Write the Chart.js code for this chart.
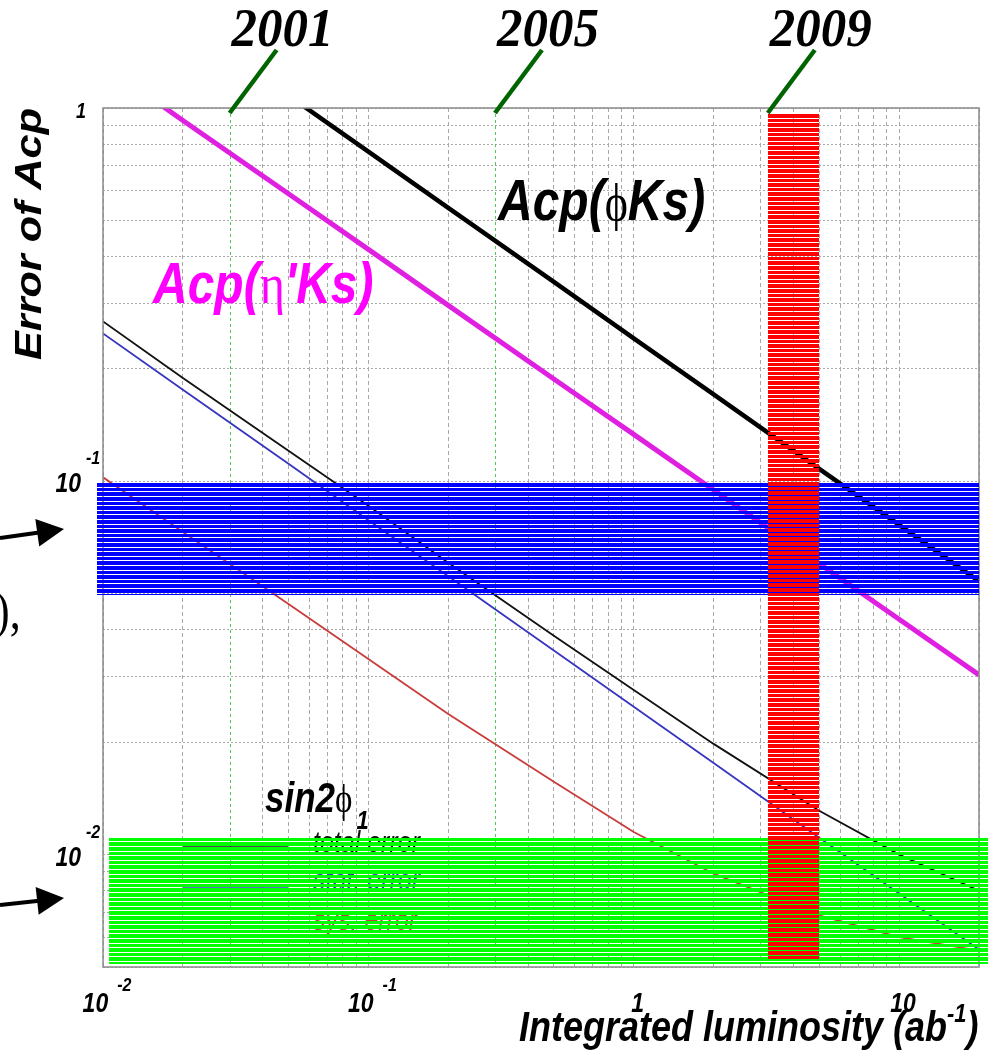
<!DOCTYPE html>
<html>
<head>
<meta charset="utf-8">
<script src="https://cdn.jsdelivr.net/npm/chart.js@4.4.1/dist/chart.umd.min.js"></script>
<style>
  html, body { margin: 0; padding: 0; background: #fff; }
</style>
</head>
<body>
<canvas id="lumiChart" width="988" height="1056"></canvas>
<script>
// integrated luminosity (ab^-1) where the curves are sampled
const lumi = [0.01, 0.02, 0.05, 0.1, 0.2, 0.5, 1, 2, 5, 10, 20];

// expected errors
const errPhiKs   = [null, null, 1.08, 0.764, 0.540, 0.342, 0.2415, 0.171, 0.108, 0.0764, 0.054];
const errEtapKs  = [1.31, 0.926, 0.589, 0.418, 0.296, 0.188, 0.1336, 0.0948, 0.0602, 0.0427, 0.0303];
const errTotal   = [0.268, 0.189, 0.1207, 0.086, 0.0605, 0.0386, 0.0276, 0.0198, 0.0131, 0.0100, 0.0080];
const errStat    = [0.249, 0.176, 0.1114, 0.0787, 0.0557, 0.0352, 0.0249, 0.0176, 0.0111, 0.00787, 0.00557];
const errSys     = [0.1025, 0.0731, 0.0469, 0.0334, 0.0238, 0.01567, 0.0115, 0.00889, 0.00687, 0.00601, 0.00553];

// grid lines
const xGrid = [0.01, 0.02, 0.04, 0.05, 0.06, 0.07, 0.08, 0.09,
               0.1, 0.2, 0.4, 0.5, 0.6, 0.7, 0.8, 0.9,
               1, 2, 3, 4, 5, 6, 7, 8, 9, 10, 20];
const yGrid = [0.005, 0.006, 0.007, 0.008, 0.009,
               0.01, 0.02, 0.03, 0.04, 0.05, 0.06, 0.07, 0.08, 0.09,
               0.1, 0.2, 0.3, 0.4, 0.5, 0.6, 0.7, 0.8, 0.9, 1];

// axis labels
const xTickValues = [0.01, 0.1, 1, 10];
const xTickBase   = ['10', '10', '1', '10'];
const xTickExp    = ['-2', '-1', '', ''];
const yTickValues = [1, 0.1, 0.01];
const yTickBase   = ['1', '10', '10'];
const yTickExp    = ['', '-1', '-2'];

// years marked along the top
const yearLabels = ['2001', '2005', '2009'];
const yearLumi   = [0.03, 0.3, 3.2];
const yearGuide  = [true, true, false];

// highlighted bands [lumi range], [error range]
const blueBandLumi  = [0.0095, 20];
const blueBandErr   = [0.0496, 0.0988];
const greenBandLumi = [0.0105, 22];
const greenBandErr  = [0.00508, 0.0111];
const redBandLumi   = [3.2, 5.0];
const redBandErr    = [0.00524, 0.963];

const legendLabels = ['total error', 'stat. error', 'sys. error'];

const SANS = '"Liberation Sans", Arial, sans-serif';
const SERIF = '"Liberation Serif", "DejaVu Serif", serif';
const SY = 1.2; // text is drawn a bit taller than wide

function series(values) {
    return lumi.map((x, i) => ({ x: x, y: values[i] }));
}

// draws consecutive text pieces with their own fonts, returns end x
function textRuns(ctx, runs, x, y) {
    let cx = x;
    runs.forEach(r => {
        ctx.save();
        ctx.font = r.font;
        ctx.fillStyle = r.color || '#000';
        ctx.textBaseline = 'alphabetic';
        ctx.textAlign = 'left';
        const w = ctx.measureText(r.text).width;
        ctx.translate(cx, y + (r.dy || 0));
        ctx.scale(1, r.sy || SY);
        ctx.fillText(r.text, 0, 0);
        ctx.restore();
        cx += w + (r.gap || 0);
    });
    return cx;
}

function runsWidth(ctx, runs) {
    let w = 0;
    runs.forEach(r => {
        ctx.font = r.font;
        w += ctx.measureText(r.text).width + (r.gap || 0);
    });
    return w;
}

// filled box made of horizontal strips with thin see-through gaps
function stripedBox(ctx, x0, x1, y0, y1, color) {
    const period = 4.6;
    const l = Math.round(Math.min(x0, x1)), r = Math.round(Math.max(x0, x1));
    const top = Math.min(y0, y1), bottom = Math.round(Math.max(y0, y1));
    ctx.save();
    ctx.fillStyle = color;
    for (let y = top; y < bottom; y += period) {
        const a = Math.round(y);
        const b = Math.min(Math.round(y + period) - 1, bottom);
        if (b > a) ctx.fillRect(l, a, r - l, b - a);
    }
    ctx.restore();
}

function arrow(ctx, x0, y0, x1, y1) {
    const len = Math.hypot(x1 - x0, y1 - y0);
    const dx = (x1 - x0) / len, dy = (y1 - y0) / len;
    const head = 27, half = 14;
    const bx = x1 - dx * head, by = y1 - dy * head;
    ctx.save();
    ctx.strokeStyle = '#000';
    ctx.fillStyle = '#000';
    ctx.lineWidth = 4;
    ctx.beginPath();
    ctx.moveTo(x0, y0);
    ctx.lineTo(bx + dx * 2, by + dy * 2);
    ctx.stroke();
    ctx.beginPath();
    ctx.moveTo(x1, y1);
    ctx.lineTo(bx - dy * half, by + dx * half);
    ctx.lineTo(bx + dy * half, by - dx * half);
    ctx.closePath();
    ctx.fill();
    ctx.restore();
}

const decorations = {
    id: 'decorations',
    beforeDatasetsDraw(chart) {
        const ctx = chart.ctx, area = chart.chartArea, xs = chart.scales.x;
        // dotted guides for the years
        ctx.save();
        ctx.strokeStyle = '#4fc94f';
        ctx.lineWidth = 1;
        ctx.setLineDash([3, 3]);
        yearLumi.forEach((v, i) => {
            if (!yearGuide[i]) return;
            const px = Math.round(xs.getPixelForValue(v)) + 0.5;
            ctx.beginPath();
            ctx.moveTo(px, area.top);
            ctx.lineTo(px, area.bottom);
            ctx.stroke();
        });
        ctx.restore();
    },
    afterDatasetsDraw(chart) {
        const ctx = chart.ctx, area = chart.chartArea;
        const xs = chart.scales.x, ys = chart.scales.y;

        // frame
        ctx.save();
        ctx.strokeStyle = '#8a8a8a';
        ctx.lineWidth = 1.5;
        ctx.strokeRect(area.left, area.top, area.right - area.left, area.bottom - area.top);
        ctx.restore();

        // curve labels
        const bi48 = 'italic bold 48px ' + SANS;
        textRuns(ctx, [
            { text: 'Acp(', font: bi48, color: '#000' },
            { text: 'ϕ', font: '44px ' + SERIF, color: '#000' },
            { text: 'Ks)', font: bi48, color: '#000' }
        ], 498, 220);
        textRuns(ctx, [
            { text: 'Acp(', font: bi48, color: '#ff00ff' },
            { text: 'η', font: '48px ' + SERIF, color: '#ff00ff' },
            { text: '\'', font: bi48, color: '#ff00ff' },
            { text: 'Ks)', font: bi48, color: '#ff00ff' }
        ], 153, 303);

        // sin2phi1 legend
        textRuns(ctx, [
            { text: 'sin2', font: 'italic bold 35px ' + SANS },
            { text: 'ϕ', font: '33px ' + SERIF, gap: 4 },
            { text: '1', font: 'italic bold 22px ' + SANS, dy: 17 }
        ], 265, 812);
        const legendSets = chart.data.datasets.slice(2);
        const legendY = [847, 888, 926];
        const legendBase = [852, 890, 930];
        legendSets.forEach((ds, i) => {
            ctx.save();
            ctx.strokeStyle = ds.borderColor;
            ctx.lineWidth = 1.5;
            ctx.beginPath();
            ctx.moveTo(183, legendY[i]);
            ctx.lineTo(288, legendY[i]);
            ctx.stroke();
            ctx.restore();
            textRuns(ctx, [{ text: legendLabels[i], font: 'italic 25px ' + SANS, color: ds.borderColor }],
                313, legendBase[i]);
        });

        // striped bands on top of everything inside the plot
        stripedBox(ctx, xs.getPixelForValue(blueBandLumi[0]), xs.getPixelForValue(blueBandLumi[1]),
            ys.getPixelForValue(blueBandErr[1]), ys.getPixelForValue(blueBandErr[0]), '#0000ff');
        stripedBox(ctx, xs.getPixelForValue(greenBandLumi[0]), xs.getPixelForValue(greenBandLumi[1]),
            ys.getPixelForValue(greenBandErr[1]), ys.getPixelForValue(greenBandErr[0]), '#00ff00');
        stripedBox(ctx, xs.getPixelForValue(redBandLumi[0]), xs.getPixelForValue(redBandLumi[1]),
            ys.getPixelForValue(redBandErr[1]), ys.getPixelForValue(redBandErr[0]), '#ff0000');
    },
    afterDraw(chart) {
        const ctx = chart.ctx, area = chart.chartArea;
        const xs = chart.scales.x, ys = chart.scales.y;

        // y tick labels
        yTickValues.forEach((v, i) => {
            const py = ys.getPixelForValue(v);
            if (yTickExp[i]) {
                ctx.font = 'italic bold 23px ' + SANS;
                const w = ctx.measureText(yTickBase[i]).width;
                textRuns(ctx, [{ text: yTickBase[i], font: 'italic bold 23px ' + SANS }], 81 - w, py + 11);
                textRuns(ctx, [{ text: yTickExp[i], font: 'italic bold 16px ' + SANS }], 86, py - 17);
            } else {
                ctx.font = 'italic bold 18px ' + SANS;
                const w = ctx.measureText(yTickBase[i]).width;
                textRuns(ctx, [{ text: yTickBase[i], font: 'italic bold 18px ' + SANS }], 86 - w, py + 10);
            }
        });

        // x tick labels
        xTickValues.forEach((v, i) => {
            const px = xs.getPixelForValue(v);
            const runs = [{ text: xTickBase[i], font: 'italic bold 23px ' + SANS, gap: xTickExp[i] ? 9 : 0 }];
            const w = runsWidth(ctx, runs.concat(xTickExp[i] ? [{ text: xTickExp[i], font: 'italic bold 16px ' + SANS }] : []));
            const end = textRuns(ctx, runs, px + 4 - w / 2, area.bottom + 45);
            if (xTickExp[i]) {
                textRuns(ctx, [{ text: xTickExp[i], font: 'italic bold 16px ' + SANS }], end, area.bottom + 24);
            }
        });

        // axis titles
        textRuns(ctx, [
            { text: 'Integrated luminosity (ab', font: 'italic bold 36px ' + SANS },
            { text: '-1', font: 'italic bold 22px ' + SANS, dy: -19 },
            { text: ')', font: 'italic bold 36px ' + SANS }
        ], 519, 1041);

        ctx.save();
        ctx.translate(41, 360);
        ctx.rotate(-Math.PI / 2);
        ctx.scale(SY, 1);
        ctx.font = 'italic bold 36px ' + SANS;
        ctx.fillStyle = '#000';
        ctx.textBaseline = 'alphabetic';
        ctx.fillText('Error of Acp', 0, 0);
        ctx.restore();

        // year markers with leader lines
        const yearFont = 'italic bold 51px ' + SERIF;
        yearLumi.forEach((v, i) => {
            const px = xs.getPixelForValue(v);
            ctx.save();
            ctx.strokeStyle = '#006400';
            ctx.lineWidth = 4.5;
            ctx.beginPath();
            ctx.moveTo(px, area.top + 5);
            ctx.lineTo(px + 47, 50);
            ctx.stroke();
            ctx.restore();
            ctx.font = yearFont;
            const w = ctx.measureText(yearLabels[i]).width;
            textRuns(ctx, [{ text: yearLabels[i], font: yearFont, sy: 1.08 }], px + 53 - w / 2, 46);
        });

        // pointers on the left margin
        arrow(ctx, 0, 538, 64, 529);
        arrow(ctx, 0, 905, 64, 898);
        textRuns(ctx, [{ text: '),', font: '44px ' + SERIF }], -5, 628);
    }
};

function lineSet(label, values, color, width) {
    return {
        label: label,
        data: series(values),
        borderColor: color,
        borderWidth: width,
        pointRadius: 0,
        tension: 0,
        fill: false,
        clip: 0
    };
}

const gridTicks = values => scale => { scale.ticks = values.map(v => ({ value: v })); };

new Chart(document.getElementById('lumiChart'), {
    type: 'line',
    data: {
        datasets: [
            lineSet('Acp(ϕKs)', errPhiKs, '#000000', 4.5),
            lineSet('Acp(η\'Ks)', errEtapKs, '#e020e0', 5),
            lineSet('total error', errTotal, '#111111', 1.8),
            lineSet('stat. error', errStat, '#3535c0', 1.8),
            lineSet('sys. error', errSys, '#c83c3c', 1.8)
        ]
    },
    options: {
        responsive: false,
        animation: false,
        events: [],
        layout: { padding: { left: 103, top: 108, right: 9, bottom: 89 } },
        plugins: {
            legend: { display: false },
            tooltip: { enabled: false }
        },
        scales: {
            x: {
                type: 'logarithmic',
                min: 0.01,
                max: 20,
                afterBuildTicks: gridTicks(xGrid),
                ticks: { display: false },
                grid: { color: '#a8a8a8', lineWidth: 1, drawTicks: false },
                border: { display: false, dash: [4, 3] }
            },
            y: {
                type: 'logarithmic',
                min: 0.005,
                max: 1,
                afterBuildTicks: gridTicks(yGrid),
                ticks: { display: false },
                grid: { color: '#a8a8a8', lineWidth: 1, drawTicks: false },
                border: { display: false, dash: [2, 2] }
            }
        }
    },
    plugins: [decorations]
});
</script>
</body>
</html>
